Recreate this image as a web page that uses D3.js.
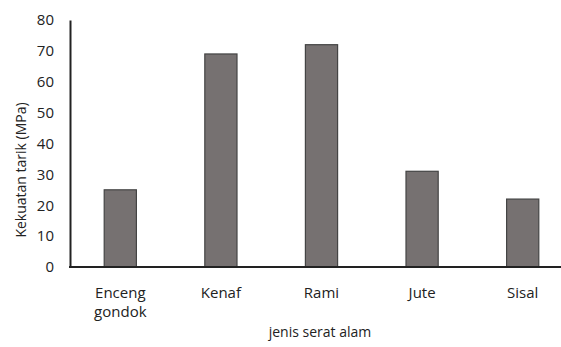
<!DOCTYPE html>
<html>
<head>
<meta charset="utf-8">
<script src="https://cdn.jsdelivr.net/npm/d3@7"></script>
<style>
  html, body { margin: 0; padding: 0; background: #fff; }
  svg { display: block; }
  text { font-family: "Open Sans", sans-serif; fill: #222; }
</style>
</head>
<body>
<script>
// Tensile strength of natural fibres
const categories = ["Enceng gondok", "Kenaf", "Rami", "Jute", "Sisal"];
const strength = [25, 69, 72, 31, 22];
const yTicks = [0, 10, 20, 30, 40, 50, 60, 70, 80];
const xTitle = "jenis serat alam";
const yTitle = "Kekuatan tarik (MPa)";

const W = 561, H = 347;
const plot = { left: 70, right: 573, top: 20, bottom: 267 };

const svg = d3.select("body").append("svg")
  .attr("width", W).attr("height", H);

const x = d3.scaleBand()
  .domain(categories)
  .range([plot.left, plot.right])
  .paddingInner(0.68)
  .paddingOuter(0.34);

const y = d3.scaleLinear()
  .domain([0, 80])
  .range([plot.bottom, plot.top]);

// bars
svg.append("g").selectAll("rect")
  .data(categories)
  .join("rect")
  .attr("x", d => x(d))
  .attr("y", (d, i) => y(strength[i]))
  .attr("width", x.bandwidth())
  .attr("height", (d, i) => y(0) - y(strength[i]))
  .attr("fill", "#767171")
  .attr("stroke", "#444")
  .attr("stroke-width", 1.2);

// y axis
const yAxis = svg.append("g")
  .attr("transform", `translate(${plot.left},0)`)
  .call(d3.axisLeft(y).tickValues(yTicks).tickSize(0).tickPadding(16));
yAxis.select(".domain").attr("stroke", "#222").attr("stroke-width", 2);
yAxis.selectAll("text").attr("font-size", 15).attr("fill", "#222")
  .style("font-family", "'Open Sans', sans-serif");

// x axis
svg.append("line")
  .attr("x1", plot.left - 1).attr("x2", W)
  .attr("y1", y(0)).attr("y2", y(0))
  .attr("stroke", "#222").attr("stroke-width", 2);

const xLabels = svg.append("g").selectAll("text")
  .data(categories)
  .join("text")
  .attr("text-anchor", "middle")
  .attr("font-size", 15)
  .attr("transform", d => `translate(${x(d) + x.bandwidth() / 2},298)`);
xLabels.each(function(d) {
  const words = d.split(" ");
  d3.select(this).selectAll("tspan")
    .data(words)
    .join("tspan")
    .attr("x", 0)
    .attr("dy", (w, i) => i === 0 ? 0 : 19)
    .text(w => w);
});

// axis titles
svg.append("text")
  .attr("x", 320).attr("y", 337)
  .attr("text-anchor", "middle")
  .attr("font-size", 14)
  .text(xTitle);

svg.append("text")
  .attr("transform", "translate(26,170) rotate(-90)")
  .attr("text-anchor", "middle")
  .attr("font-size", 14)
  .text(yTitle);
</script>
</body>
</html>
